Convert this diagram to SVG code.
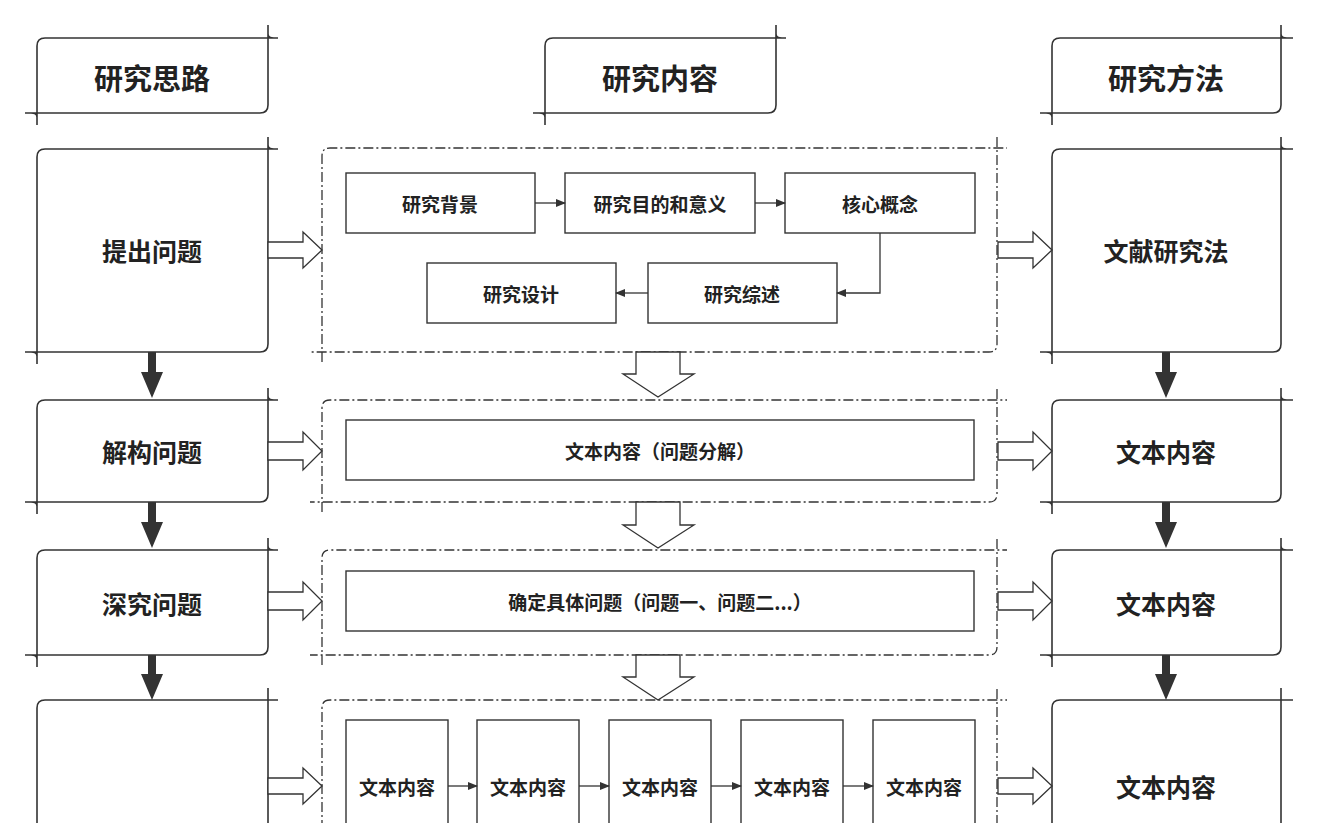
<svg xmlns="http://www.w3.org/2000/svg" width="1317" height="823" viewBox="0 0 1317 823">
<style>
.b{fill:none;stroke:#333;stroke-width:1.6}
.d{fill:none;stroke:#333;stroke-width:1.3;stroke-dasharray:10 3 2 3}
.r{fill:#fff;stroke:#333;stroke-width:1.4}
.h{fill:#fff;stroke:#333;stroke-width:1.3}
.k{fill:#333;stroke:none}
.c{fill:none;stroke:#333;stroke-width:1.3}
text{font-family:"Noto Sans CJK SC","Liberation Serif",serif;fill:#222;text-anchor:middle;dominant-baseline:central}
.t1{font-size:29px;font-weight:bold}
.t2{font-size:25px;font-weight:bold}
.t3{font-size:19px;font-weight:bold}
</style>
<defs>
<marker id="a" markerWidth="10" markerHeight="8" refX="9" refY="4" orient="auto" markerUnits="userSpaceOnUse"><path d="M0,0 L10,4 L0,8 Z" fill="#333"/></marker>
</defs>
<g id="h1"><path class="b" d="M37,125 V46 Q37,38 45,38 H278 M268,25 V105 Q268,113 260,113 H25 M268,34 Q268,38 274,38 M37,117 Q37,113 31,113"/><text class="t1" x="152" y="77">研究思路</text></g>
<g id="h2"><path class="b" d="M545,125 V46 Q545,38 553,38 H786 M776,25 V105 Q776,113 768,113 H533 M776,34 Q776,38 782,38 M545,117 Q545,113 539,113"/><text class="t1" x="660" y="77">研究内容</text></g>
<g id="h3"><path class="b" d="M1052,125 V46 Q1052,38 1060,38 H1293 M1281,25 V105 Q1281,113 1273,113 H1040 M1281,34 Q1281,38 1287,38 M1052,117 Q1052,113 1046,113"/><text class="t1" x="1166" y="77">研究方法</text></g>

<g id="l1"><path class="b" d="M37,364 V157 Q37,149 45,149 H278 M268,137 V344 Q268,352 260,352 H25 M268,145 Q268,149 274,149 M37,356 Q37,352 31,352"/><text class="t2" x="152" y="250">提出问题</text></g>
<g id="l2"><path class="b" d="M37,514 V408 Q37,400 45,400 H278 M268,388 V494 Q268,502 260,502 H25 M268,396 Q268,400 274,400 M37,506 Q37,502 31,502"/><text class="t2" x="152" y="451">解构问题</text></g>
<g id="l3"><path class="b" d="M37,667 V558 Q37,550 45,550 H278 M268,538 V647 Q268,655 260,655 H25 M268,546 Q268,550 274,550 M37,659 Q37,655 31,655"/><text class="t2" x="152" y="603">深究问题</text></g>
<g id="l4"><path class="b" d="M37,830 V708 Q37,700 45,700 H278 M268,688 V830"/></g>

<g id="r1"><path class="b" d="M1052,364 V157 Q1052,149 1060,149 H1293 M1281,137 V344 Q1281,352 1273,352 H1040 M1281,145 Q1281,149 1287,149 M1052,356 Q1052,352 1046,352"/><text class="t2" x="1166" y="250">文献研究法</text></g>
<g id="r2"><path class="b" d="M1052,514 V408 Q1052,400 1060,400 H1293 M1281,388 V494 Q1281,502 1273,502 H1040 M1281,396 Q1281,400 1287,400 M1052,506 Q1052,502 1046,502"/><text class="t2" x="1166" y="451">文本内容</text></g>
<g id="r3"><path class="b" d="M1052,667 V558 Q1052,550 1060,550 H1293 M1281,538 V647 Q1281,655 1273,655 H1040 M1281,546 Q1281,550 1287,550 M1052,659 Q1052,655 1046,655"/><text class="t2" x="1166" y="603">文本内容</text></g>
<g id="r4"><path class="b" d="M1052,830 V708 Q1052,700 1060,700 H1293 M1281,688 V830"/><text class="t2" x="1166" y="786">文本内容</text></g>

<g id="m1"><path class="d" d="M322,362 V156 Q322,148 330,148 H1007 M997,137 V344 Q997,352 989,352 H310"/></g>
<g id="m2"><path class="d" d="M322,512 V408 Q322,400 330,400 H1007 M997,389 V494 Q997,502 989,502 H310"/></g>
<g id="m3"><path class="d" d="M322,665 V558 Q322,550 330,550 H1007 M997,539 V647 Q997,655 989,655 H310"/></g>
<g id="m4"><path class="d" d="M322,830 V708 Q322,700 330,700 H1007 M997,689 V830"/></g>

<g id="n1"><rect class="r" x="346" y="173" width="189" height="60"/><text class="t3" x="440" y="203">研究背景</text></g>
<g id="n2"><rect class="r" x="565" y="173" width="190" height="60"/><text class="t3" x="660" y="203">研究目的和意义</text></g>
<g id="n3"><rect class="r" x="785" y="173" width="190" height="60"/><text class="t3" x="880" y="203">核心概念</text></g>
<g id="n4"><rect class="r" x="427" y="263" width="189" height="60"/><text class="t3" x="521" y="293">研究设计</text></g>
<g id="n5"><rect class="r" x="648" y="263" width="189" height="60"/><text class="t3" x="742" y="293">研究综述</text></g>
<g id="n6"><rect class="r" x="346" y="420" width="628" height="60"/><text class="t3" x="660" y="450">文本内容（问题分解）</text></g>
<g id="n7"><rect class="r" x="346" y="571" width="628" height="60"/><text class="t3" x="660" y="601">确定具体问题（问题一、问题二...）</text></g>
<g id="n8"><rect class="r" x="346" y="720" width="102" height="110"/><text class="t3" x="397" y="786">文本内容</text></g>
<g id="n9"><rect class="r" x="477" y="720" width="102" height="110"/><text class="t3" x="528" y="786">文本内容</text></g>
<g id="n10"><rect class="r" x="609" y="720" width="102" height="110"/><text class="t3" x="660" y="786">文本内容</text></g>
<g id="n11"><rect class="r" x="741" y="720" width="102" height="110"/><text class="t3" x="792" y="786">文本内容</text></g>
<g id="n12"><rect class="r" x="873" y="720" width="102" height="110"/><text class="t3" x="924" y="786">文本内容</text></g>

<g id="connectors">
<path class="c" marker-end="url(#a)" d="M535,203 H565"/>
<path class="c" marker-end="url(#a)" d="M755,203 H785"/>
<path class="c" marker-end="url(#a)" d="M880,233 V293 H837"/>
<path class="c" marker-end="url(#a)" d="M648,293 H616"/>
<path class="c" marker-end="url(#a)" d="M448,786 H477"/>
<path class="c" marker-end="url(#a)" d="M579,786 H609"/>
<path class="c" marker-end="url(#a)" d="M711,786 H741"/>
<path class="c" marker-end="url(#a)" d="M843,786 H873"/>
<g id="hr">
<path class="h" d="M268,242 H303 V232 L322,250 L303,268 V258 H268 Z"/>
<path class="h" d="M268,442 H303 V432 L322,451 L303,470 V460 H268 Z"/>
<path class="h" d="M268,592 H303 V582 L322,601 L303,620 V610 H268 Z"/>
<path class="h" d="M268,778 H303 V768 L322,786 L303,804 V794 H268 Z"/>
<path class="h" d="M998,242 H1033 V232 L1052,250 L1033,268 V258 H998 Z"/>
<path class="h" d="M998,442 H1033 V432 L1052,451 L1033,470 V460 H998 Z"/>
<path class="h" d="M998,592 H1033 V582 L1052,601 L1033,620 V610 H998 Z"/>
<path class="h" d="M998,778 H1033 V768 L1052,786 L1033,804 V794 H998 Z"/>
</g>
<g id="hd">
<path class="h" d="M636,352 H680 V374 H694 L658,397 L623,374 H636 Z"/>
<path class="h" d="M636,502 H680 V525 H694 L658,548 L623,525 H636 Z"/>
<path class="h" d="M636,655 H680 V677 H694 L658,700 L623,677 H636 Z"/>
</g>
<g id="bd">
<path class="k" d="M148,352 H156 V372 H163 L152,398 L141,372 H148 Z"/>
<path class="k" d="M148,502 H156 V522 H163 L152,548 L141,522 H148 Z"/>
<path class="k" d="M148,655 H156 V674 H163 L152,700 L141,674 H148 Z"/>
<path class="k" d="M1162,352 H1170 V372 H1177 L1166,398 L1155,372 H1162 Z"/>
<path class="k" d="M1162,502 H1170 V522 H1177 L1166,548 L1155,522 H1162 Z"/>
<path class="k" d="M1162,655 H1170 V674 H1177 L1166,700 L1155,674 H1162 Z"/>
</g>
</g>
</svg>
